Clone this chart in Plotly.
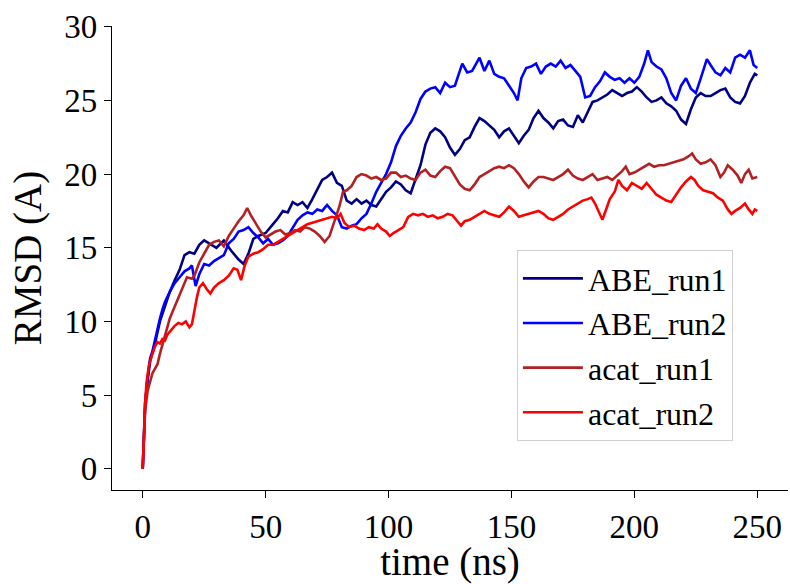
import plotly.graph_objects as go

# ---- data ----
abe1_t = [0, 0.5, 1, 2, 3, 5, 7, 9, 11, 13, 15, 17, 19, 21, 23, 25, 27, 30, 33, 36, 39, 41, 43, 45, 47, 50,
          53, 55, 57, 59, 61, 63, 65, 67, 69, 71, 73, 75, 77, 79, 81, 83, 85, 87, 89, 91, 93, 95, 97, 99,
          101, 103, 105, 107, 109, 111, 113, 115, 117, 119, 121, 123, 125, 127, 129, 131, 133, 135, 137,
          139, 141, 143, 145, 147, 149, 151, 153, 155, 157, 159, 161, 163, 165, 167, 169, 171, 173, 175,
          177, 179, 181, 183, 185, 187, 189, 191, 193, 195, 197, 199, 201, 203, 205, 207, 209, 211, 213,
          215, 217, 219, 221, 223, 225, 227, 229, 231, 233, 235, 237, 239, 241, 243, 245, 247, 249, 250]
abe1_v = [0, 3.0, 4.5, 6.0, 7.3, 8.5, 10.0, 11.0, 12.0, 12.8, 13.5, 14.5, 14.7, 14.6, 15.2, 15.5, 15.3,
          15.0, 15.5, 14.8, 14.2, 13.9, 14.6, 15.6, 15.8, 16.0, 16.6, 17.0, 17.5, 17.4, 18.1, 17.9, 18.1,
          17.7, 18.3, 18.9, 19.6, 19.8, 20.1, 19.4, 19.2, 18.2, 18.0, 18.3, 18.0, 18.2, 17.9, 17.8, 18.3,
          18.8, 19.1, 19.5, 19.3, 18.9, 18.7, 19.6, 20.6, 22.0, 22.8, 23.1, 22.9, 22.5, 21.8, 21.3, 21.7,
          22.3, 22.5, 23.2, 23.8, 23.6, 23.3, 23.0, 22.5, 22.9, 23.1, 22.6, 22.1, 22.6, 23.0, 23.8, 24.3,
          23.8, 23.5, 23.1, 23.6, 23.7, 23.3, 23.2, 24.0, 23.5, 24.2, 24.9, 25.0, 25.2, 25.4, 25.7, 25.5,
          25.3, 25.5, 25.6, 25.9, 25.6, 25.2, 24.9, 25.0, 25.2, 24.8, 24.6, 24.3, 23.7, 23.4, 24.4, 25.2,
          25.5, 25.3, 25.3, 25.5, 25.7, 25.8, 25.2, 24.9, 24.8, 25.3, 26.2, 26.8, 26.7]

abe2_t = [0, 0.5, 1, 2, 3, 4, 5, 6, 7, 8, 9, 11, 13, 15, 17, 19, 20, 21.5, 23, 25, 27, 29, 31, 33, 35, 37,
          39, 41, 43, 45, 47, 49, 51, 53, 55, 57, 59, 61, 63, 65, 67, 69, 71, 73, 75, 77, 79, 81, 83, 85,
          87, 89, 91, 93, 95, 97, 99, 101, 103, 105, 107, 109, 111, 113, 115, 117, 119, 121, 123, 125, 127,
          129, 130, 132, 134, 136, 137, 139, 141, 143, 145, 147, 149, 151, 152.5, 154, 156, 158, 160, 162,
          164, 166, 168, 170, 172, 174, 176, 178, 180, 182, 184, 186, 188, 190, 192, 194, 196, 198, 200,
          202, 204, 205.5, 207, 209, 211, 213, 215, 217, 219, 221, 223, 225, 227, 229.5, 231, 233, 235,
          237, 239, 241, 243, 245, 247, 248.5, 250]
abe2_v = [0, 2.5, 4.5, 6.2, 7.5, 8.0, 8.8, 9.5, 10.2, 10.8, 11.3, 12.0, 12.6, 13.0, 13.4, 13.6, 13.8, 12.4,
          13.2, 13.9, 13.8, 14.1, 14.3, 14.5, 15.3, 15.6, 16.1, 16.2, 16.4, 16.0, 15.7, 15.3, 15.6, 15.2,
          15.3, 15.5, 15.8, 16.4, 16.9, 17.2, 17.4, 17.3, 17.6, 17.5, 17.9, 17.5, 17.2, 16.4, 16.3, 16.5,
          16.6, 17.0, 17.3, 18.0, 18.8, 19.4, 20.0, 20.8, 21.9, 22.6, 23.1, 23.5, 24.2, 25.1, 25.6, 25.8,
          25.9, 25.5, 26.2, 25.9, 26.0, 27.0, 27.5, 26.9, 27.0, 27.6, 27.9, 27.0, 27.7, 26.8, 26.6, 26.5,
          26.0, 25.5, 25.0, 26.5, 27.2, 27.3, 27.5, 26.8, 27.3, 27.5, 27.3, 27.7, 27.2, 27.4, 27.0, 26.6,
          25.2, 25.3, 25.9, 26.3, 26.9, 26.6, 26.4, 26.5, 26.2, 26.5, 26.2, 26.6, 27.5, 28.4, 27.6, 27.3,
          27.1, 26.5, 25.5, 25.0, 26.0, 26.5, 25.8, 25.5, 26.5, 27.8, 27.4, 26.9, 26.7, 27.2, 26.9, 27.9,
          28.1, 27.9, 28.4, 27.4, 27.2]

acat1_t = [0, 0.5, 1, 2, 3, 4, 5, 6, 7, 8, 9, 10, 11, 12, 13, 14, 16, 18, 20, 21, 23, 25, 27, 29, 31, 33,
           35, 37, 39, 41, 42.5, 44, 46, 48, 50, 52, 54, 56, 58, 60, 62, 64, 66, 68, 70, 72, 74, 76, 78, 80,
           81.5, 83, 85, 87, 89, 91, 93, 95, 97, 99, 101, 103, 105, 107, 109, 111, 113, 115, 117, 119, 121,
           123, 125, 127, 129, 131, 133, 135, 137, 139, 141, 143, 145, 147, 149, 151, 153, 155, 157, 159,
           161, 163, 165, 167, 169, 171, 173, 175, 177, 179, 181, 183, 185, 187, 189, 191, 193, 195, 196.5,
           198, 200, 202, 204, 206, 208, 210, 212, 214, 216, 218, 220, 222, 223.5, 225, 227, 229, 231, 233,
           235, 236.5, 238, 240, 242, 243.5, 245, 246.5, 248, 250]
acat1_v = [0, 2.5, 4.0, 5.3, 6.0, 6.5, 6.8, 7.1, 7.8, 8.5, 9.0, 9.6, 10.2, 10.6, 11.0, 11.4, 12.2, 13.0,
           12.9, 13.1, 14.0, 14.6, 15.2, 15.4, 15.5, 15.1, 15.8, 16.3, 16.8, 17.2, 17.7, 17.2, 16.6, 16.1,
           15.7, 15.9, 16.1, 16.2, 15.9, 16.0, 16.2, 16.1, 16.4, 16.3, 16.1, 15.8, 15.4, 15.8, 16.8, 17.8,
           18.8, 18.9, 19.2, 19.8, 20.0, 19.9, 19.7, 19.8, 19.6, 19.7, 20.1, 20.1, 19.8, 19.9, 19.7, 19.6,
           20.1, 20.3, 19.9, 19.8, 20.2, 20.5, 20.4, 19.8, 19.3, 19.0, 18.9, 19.3, 19.8, 20.0, 20.2, 20.4,
           20.5, 20.4, 20.6, 20.4, 20.0, 19.5, 19.1, 19.5, 19.8, 19.8, 19.7, 19.6, 19.8, 20.0, 20.3, 19.9,
           19.7, 19.6, 19.8, 20.0, 19.6, 19.7, 19.8, 19.6, 19.9, 20.2, 20.5, 20.0, 20.1, 20.3, 20.5, 20.7,
           20.5, 20.6, 20.6, 20.7, 20.8, 20.9, 21.0, 21.2, 21.4, 21.0, 20.7, 20.8, 21.0, 20.6, 19.8, 20.1,
           20.6, 20.3, 19.9, 19.4, 20.0, 20.3, 19.7, 19.8]

acat2_t = [0, 0.5, 1, 1.5, 2.5, 3.5, 5, 6, 7, 8, 9, 10, 11.5, 13, 14.5, 16, 17.5, 19, 20, 21, 22, 23, 24.5,
           26, 27.5, 29, 31, 33, 35, 37, 38.5, 40, 41.5, 43, 45, 47, 49, 51, 53, 55, 57, 59, 61, 63, 65, 67,
           69, 71, 73, 75, 77, 79, 80.5, 82, 84, 86, 88, 90, 92, 94, 95.5, 97, 99, 100.5, 102, 104, 106, 108,
           110, 112, 114, 116, 118, 120, 122, 124, 126, 128, 129.5, 131, 133, 135, 137, 139, 141, 143, 145,
           147, 149, 151, 153, 155, 157, 159, 161, 163, 165, 167, 169, 171, 173, 175, 177, 179, 181, 182.5,
           184, 186, 187, 188.5, 190, 192, 193.5, 195, 197, 199, 201, 203, 205, 207, 209, 211, 213, 215, 217,
           219, 221, 223, 224.5, 226, 228, 230, 232, 234, 236, 238, 239.5, 241, 243, 245, 246.5, 248, 249, 250]
acat2_v = [0, 2.5, 4.5, 5.8, 7.0, 7.6, 8.3, 8.6, 8.5, 8.8, 8.7, 9.1, 9.4, 9.7, 9.9, 9.8, 10.0, 9.6, 9.8,
           10.8, 11.6, 12.3, 12.6, 12.2, 11.9, 12.3, 12.6, 12.8, 13.1, 13.6, 13.5, 12.8, 13.8, 14.4, 14.6,
           14.7, 14.9, 15.2, 15.2, 15.4, 15.6, 15.8, 16.0, 16.2, 16.4, 16.6, 16.7, 16.8, 16.9, 17.0, 17.1,
           17.0, 17.3, 16.7, 16.4, 16.5, 16.3, 16.2, 16.4, 16.3, 16.6, 16.3, 16.1, 15.8, 16.0, 16.2, 16.4,
           17.1, 17.3, 17.2, 17.3, 17.1, 17.2, 17.0, 17.1, 17.3, 17.2, 16.8, 16.5, 16.8, 16.9, 17.1, 17.3,
           17.5, 17.3, 17.2, 17.1, 17.4, 17.8, 17.5, 17.1, 17.2, 17.3, 17.4, 17.5, 17.3, 17.0, 16.9, 17.1,
           17.3, 17.6, 17.8, 18.0, 18.2, 18.3, 18.4, 18.0, 17.3, 16.9, 17.6, 18.3, 18.8, 19.6, 19.2, 18.9,
           19.4, 19.2, 19.0, 19.4, 19.0, 18.6, 18.4, 18.2, 18.1, 18.6, 19.1, 19.5, 19.8, 19.6, 19.2, 18.9,
           18.8, 18.7, 18.4, 18.2, 17.6, 17.3, 17.5, 17.7, 18.0, 17.6, 17.3, 17.6, 17.5]

series_names = ["ABE_run1", "ABE_run2", "acat_run1", "acat_run2"]
series_colors = ["#000080", "#0000FF", "#B22222", "#FF0000"]
x_ticks = [0, 50, 100, 150, 200, 250]
y_ticks = [0, 5, 10, 15, 20, 25, 30]

FONT = "Liberation Serif, Times New Roman, serif"

fig = go.Figure()
for name, col, t, v in zip(series_names, series_colors,
                           [abe1_t, abe2_t, acat1_t, acat2_t],
                           [abe1_v, abe2_v, acat1_v, acat2_v]):
    fig.add_trace(go.Scatter(x=t, y=v, mode="lines", name=name, legendgroup=name,
                             line=dict(color=col, width=2.6)))

axis_common = dict(showline=True, linecolor="black", linewidth=1.3, ticks="outside",
                   ticklen=7, tickwidth=1.3, tickcolor="black", showgrid=False,
                   zeroline=False, tickfont=dict(family=FONT, size=33, color="black"))

fig.update_layout(
    width=790, height=584,
    paper_bgcolor="white", plot_bgcolor="white",
    margin=dict(l=112, r=2, t=26, b=94),
    font=dict(family=FONT, color="black"),
    xaxis=dict(range=[-12.5, 262.5], tickvals=x_ticks,
               title=dict(text="time (ns)", font=dict(family=FONT, size=39), standoff=0),
               **axis_common),
    yaxis=dict(range=[-1.44, 30.05], tickvals=y_ticks,
               title=dict(text="RMSD (A)", font=dict(family=FONT, size=39), standoff=10),
               **axis_common),
    legend=dict(x=0.599, y=0.517, xanchor="left", yanchor="top",
                bgcolor="white", bordercolor="#d0d0d0", borderwidth=1,
                font=dict(family=FONT, size=32, color="black"),
                tracegroupgap=0, itemwidth=60),
)

fig.write_html("out.html")
